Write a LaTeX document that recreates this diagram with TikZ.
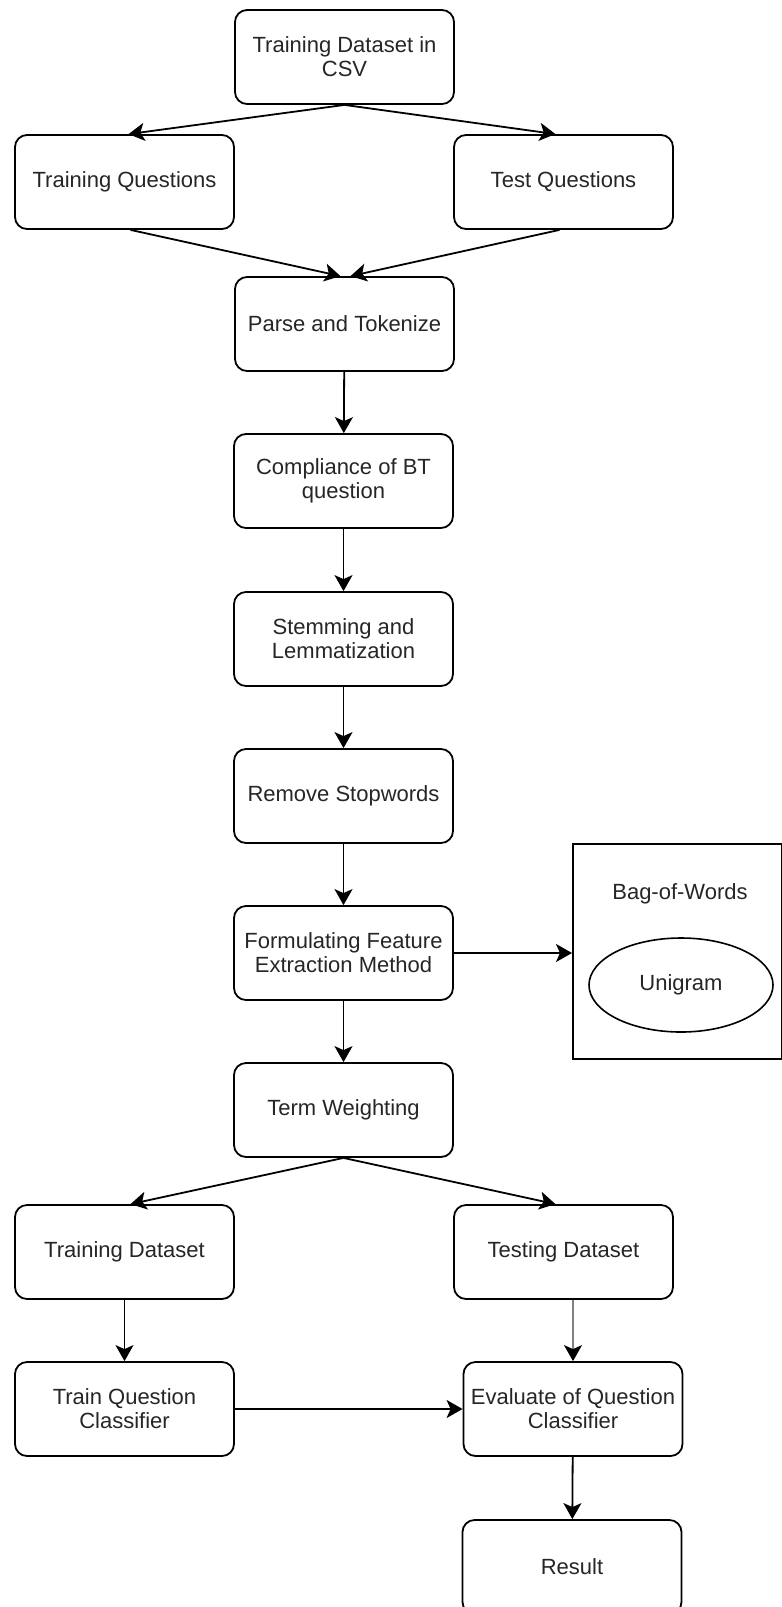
\documentclass[tikz,border=0pt]{standalone}
\usepackage{fontspec}
\setmainfont{Liberation Sans}
\usetikzlibrary{arrows.meta,shapes.geometric,calc}
\begin{document}
\begin{tikzpicture}[x=0.5pt,y=-0.5pt,
  box/.style={draw, rounded corners=6pt, line width=0.9pt, minimum width=109.5pt,
    minimum height=47pt, align=center, inner sep=0pt,
    font=\fontsize{11}{12}\selectfont, text=black!85},
  conn/.style={line width=0.9pt, -{Stealth[length=8pt,width=9pt,inset=2pt,black]}},
  lbl/.style={font=\fontsize{11}{12}\selectfont, text=black!85, inner sep=0pt}]
\clip (0,0) rectangle (782,1607);
\fill[white] (0,0) rectangle (782,1607);

\node[box] (csv) at (344.5,57) {Training Dataset in\\CSV};
\node[box] (tq) at (124.5,182) {Training Questions};
\node[box] (testq) at (563.5,182) {Test Questions};
\node[box] (parse) at (344.5,324) {Parse and Tokenize};
\node[box] (comp) at (343.5,481) {Compliance of BT\\question};
\node[box] (stem) at (343.5,639) {Stemming and\\Lemmatization};
\node[box] (remove) at (343.5,796) {Remove Stopwords};
\node[box] (form) at (343.5,953) {Formulating Feature\\Extraction Method};
\node[box] (term) at (343.5,1110) {Term Weighting};
\node[box] (trd) at (124.5,1252) {Training Dataset};
\node[box] (ted) at (563.5,1252) {Testing Dataset};
\node[box] (trqc) at (124.5,1409) {Train Question\\Classifier};
\node[box] (eval) at (573,1409) {Evaluate of Question\\Classifier};
\node[box] (result) at (572,1567) {Result};

\node[draw, line width=0.9pt, minimum width=104.5pt, minimum height=107.5pt,
  anchor=north west, inner sep=0pt] (bow) at (572,843) {};
\node[lbl] (bowlbl) at (680,894) {Bag-of-Words};
\node[draw, ellipse, line width=0.8pt, minimum width=92pt, minimum height=47pt,
  inner sep=0pt, font=\fontsize{11}{12}\selectfont, text=black!85] (uni) at (681,985) {Unigram};

\draw[conn] (csv.south) -- ([xshift=2pt]tq.north);
\draw[conn] (csv.south) -- ([xshift=-4pt]testq.north);
\draw[conn] ([xshift=3pt]tq.south) -- ([xshift=-2pt]parse.north);
\draw[conn] ([xshift=-2pt]testq.south) -- ([xshift=3pt]parse.north);
\draw[conn] (parse) -- (comp);
\draw[conn] (comp) -- (stem);
\draw[conn] (stem) -- (remove);
\draw[conn] (remove) -- (form);
\draw[conn] (form.east) -- (form.east -| bow.west);
\draw[conn] (form) -- (term);
\draw[conn] (term.south) -- ([xshift=3pt]trd.north);
\draw[conn] (term.south) -- ([xshift=-4pt]ted.north);
\draw[conn] (trd) -- (trqc);
\draw[conn, draw=black!50] (eval.north |- ted.south) -- (eval.north);
\draw[conn] (trqc.east) -- (eval.west);
\draw[conn] (eval) -- (result);
\end{tikzpicture}
\end{document}
